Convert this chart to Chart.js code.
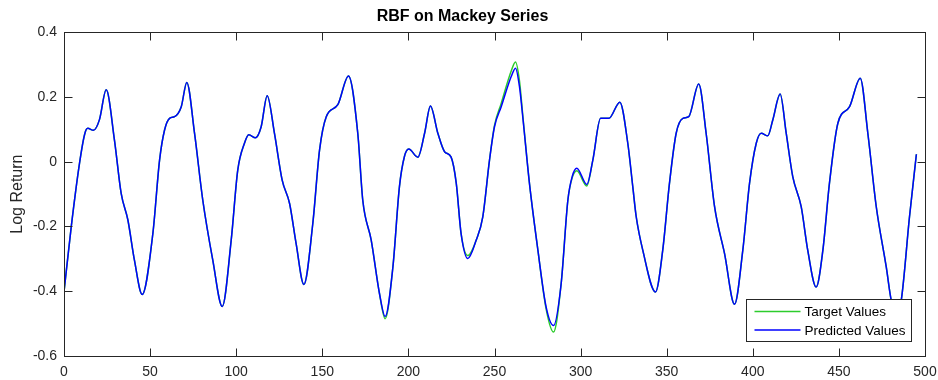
<!DOCTYPE html>
<html>
<head>
<meta charset="utf-8">
<script src="https://cdn.jsdelivr.net/npm/chart.js@4"></script>
<style>
  html, body { margin: 0; padding: 0; background: #fff; }
  #chart { display: block; }
</style>
</head>
<body>
<canvas id="chart" width="938" height="380"></canvas>
<script>
// sample positions (time index)
const xValues = [0, 4.2, 9, 12, 13.8, 17.1, 20.6, 24.5, 29.3, 33.2, 37.1, 40.9, 45.4,
  51.6, 55.5, 58.4, 61.3, 64.2, 68.1, 71.3, 75.8, 80.6, 86.4, 91.9,
  97.1, 100.9, 104.8, 107.3, 111.2, 114.5, 118, 122.2, 126.7, 131, 134.8, 139.3,
  144.5, 148.4, 152.3, 159, 165.2, 170.6, 173.5, 178.4, 183.2, 186.5,
  191, 194.8, 197.7, 200.2, 205.5, 209.4, 212.8, 217.1, 221, 224.8, 227.8, 230.6, 234.5,
  239.4, 243.2, 247.1, 250, 253.9, 259.7, 262.2, 264.5, 266.4, 270.3, 275.2, 280, 284.3,
  288.7, 292.6, 295.1, 297.8, 303.6, 307.1, 311.6, 316.4, 322.8, 327.4, 330.3, 332.3, 336.1, 343.5,
  347.7, 351.6, 355.5, 359.4, 362.8, 368.6, 372.9, 377.8, 383.6, 389.4,
  394.2, 398.1, 402, 404.9, 408.7, 411.6, 415.9, 419.4, 423.2, 428.1, 431.9, 436.8,
  440.7, 444.5, 449.4, 456.2, 462.4, 466.8, 471.7, 477.5, 480.4, 483.3, 486.2, 491, 495];

const targetValues = [-0.402, -0.201, -0.005, 0.085, 0.103, 0.097, 0.13, 0.222, 0.067, -0.098, -0.18, -0.304, -0.41,
  -0.222, 0.005, 0.098, 0.134, 0.139, 0.17, 0.245, 0.088, -0.119, -0.304, -0.447,
  -0.242, -0.026, 0.057, 0.083, 0.074, 0.108, 0.204, 0.088, -0.057, -0.129, -0.253, -0.379,
  -0.19, 0.036, 0.139, 0.176, 0.265, 0.088, -0.119, -0.242, -0.407, -0.485,
  -0.325, -0.077, 0.016, 0.039, 0.014, 0.088, 0.172, 0.088, 0.031, 0.014, -0.067, -0.222, -0.29,
  -0.242, -0.17, 0.005, 0.112, 0.18, 0.28, 0.308, 0.25, 0.145, -0.067, -0.273, -0.455, -0.526,
  -0.377, -0.119, -0.05, -0.028, -0.075, 0.005, 0.134, 0.134, 0.184, 0.057, -0.077, -0.17, -0.273, -0.402,
  -0.273, -0.067, 0.088, 0.134, 0.139, 0.24, 0.088, -0.139, -0.284, -0.44,
  -0.273, -0.067, 0.057, 0.088, 0.08, 0.129, 0.209, 0.088, -0.046, -0.139, -0.273, -0.387,
  -0.273, -0.067, 0.119, 0.17, 0.258, 0.088, -0.139, -0.325, -0.428, -0.47, -0.428, -0.17, 0.023];

const predictedValues = [-0.402, -0.201, -0.005, 0.085, 0.103, 0.097, 0.13, 0.222, 0.067, -0.098, -0.18, -0.304, -0.41,
  -0.222, 0.005, 0.098, 0.134, 0.139, 0.17, 0.245, 0.088, -0.119, -0.304, -0.447,
  -0.242, -0.026, 0.057, 0.083, 0.074, 0.108, 0.204, 0.088, -0.057, -0.129, -0.253, -0.379,
  -0.19, 0.036, 0.139, 0.176, 0.265, 0.088, -0.119, -0.242, -0.407, -0.478,
  -0.325, -0.077, 0.016, 0.039, 0.014, 0.088, 0.172, 0.088, 0.031, 0.014, -0.067, -0.222, -0.299,
  -0.242, -0.17, 0.005, 0.108, 0.17, 0.263, 0.289, 0.232, 0.139, -0.067, -0.273, -0.449, -0.506,
  -0.377, -0.119, -0.046, -0.02, -0.07, 0.005, 0.134, 0.134, 0.184, 0.057, -0.077, -0.17, -0.273, -0.402,
  -0.273, -0.067, 0.088, 0.134, 0.139, 0.24, 0.088, -0.139, -0.284, -0.44,
  -0.273, -0.067, 0.057, 0.088, 0.08, 0.129, 0.209, 0.088, -0.046, -0.139, -0.273, -0.387,
  -0.273, -0.067, 0.119, 0.17, 0.258, 0.088, -0.139, -0.325, -0.428, -0.47, -0.428, -0.17, 0.023];

const xTicks = [0, 50, 100, 150, 200, 250, 300, 350, 400, 450, 500];
const yTicks = [-0.6, -0.4, -0.2, 0, 0.2, 0.4];

const axisColor = '#262626';
const fontFamily = '"Liberation Sans", Arial, Helvetica, sans-serif';

function toPoints(xs, ys) {
    return xs.map((x, i) => ({ x: x, y: ys[i] }));
}

// MATLAB style box with inward ticks on all four sides + boxed legend on top
const matlabAxes = {
    id: 'matlabAxes',
    afterDraw(chart) {
        const ctx = chart.ctx;
        const a = chart.chartArea;
        const xs = chart.scales.x, ys = chart.scales.y;
        const L = Math.round(a.left) + 0.5, R = Math.round(a.right) + 0.5;
        const T = Math.round(a.top) + 0.5, B = Math.round(a.bottom) + 0.5;
        ctx.save();
        ctx.strokeStyle = axisColor;
        ctx.lineWidth = 1;
        ctx.strokeRect(L, T, R - L, B - T);
        ctx.beginPath();
        xTicks.forEach(v => {
            const px = Math.round(xs.getPixelForValue(v)) + 0.5;
            ctx.moveTo(px, B); ctx.lineTo(px, B - 8);
            ctx.moveTo(px, T); ctx.lineTo(px, T + 8);
        });
        yTicks.forEach(v => {
            const py = Math.round(ys.getPixelForValue(v)) + 0.5;
            ctx.moveTo(L, py); ctx.lineTo(L + 8, py);
            ctx.moveTo(R, py); ctx.lineTo(R - 8, py);
        });
        ctx.stroke();

        // legend box
        const bx = 746.5, by = 299.5, bw = 165, bh = 42;
        ctx.fillStyle = '#fff';
        ctx.fillRect(bx, by, bw, bh);
        ctx.strokeRect(bx, by, bw, bh);
        ctx.font = '13.5px ' + fontFamily;
        ctx.textBaseline = 'middle';
        ctx.textAlign = 'left';
        chart.data.datasets.forEach((ds, i) => {
            const ly = by + 12 + i * 18.5;
            ctx.strokeStyle = ds.borderColor;
            ctx.lineWidth = 1.5;
            ctx.beginPath();
            ctx.moveTo(bx + 8, ly); ctx.lineTo(bx + 54, ly);
            ctx.stroke();
            ctx.fillStyle = '#000';
            ctx.fillText(ds.label, bx + 58, ly + 1);
        });
        ctx.restore();
    }
};

new Chart(document.getElementById('chart').getContext('2d'), {
    type: 'line',
    data: {
        datasets: [
            {
                label: 'Target Values',
                data: toPoints(xValues, targetValues),
                borderColor: '#2ccc2c',
                borderWidth: 1.5,
                pointRadius: 0,
                cubicInterpolationMode: 'monotone',
                order: 1
            },
            {
                label: 'Predicted Values',
                data: toPoints(xValues, predictedValues),
                borderColor: '#0000ff',
                borderWidth: 1.5,
                pointRadius: 0,
                cubicInterpolationMode: 'monotone',
                order: 0
            }
        ]
    },
    options: {
        responsive: false,
        animation: false,
        layout: { padding: { right: 13, left: 0, bottom: 0, top: 0 } },
        plugins: {
            legend: { display: false },
            tooltip: { enabled: false },
            title: {
                display: true,
                text: 'RBF on Mackey Series',
                color: '#000',
                font: { family: fontFamily, size: 16, weight: 'bold' },
                padding: { top: 7, bottom: 6 }
            }
        },
        scales: {
            x: {
                type: 'linear',
                min: 0,
                max: 500,
                afterFit: s => { s.height = 24; s.paddingLeft = 0; s.paddingRight = 0; },
                afterBuildTicks: s => { s.ticks = xTicks.map(v => ({ value: v })); },
                grid: { display: false, drawTicks: false },
                border: { display: false },
                ticks: {
                    padding: 8,
                    color: axisColor,
                    maxRotation: 0,
                    font: { family: fontFamily, size: 14 }
                }
            },
            y: {
                min: -0.6,
                max: 0.4,
                afterFit: s => { s.width = 64; s.paddingTop = 0; s.paddingBottom = 0; },
                afterBuildTicks: s => { s.ticks = yTicks.map(v => ({ value: v })); },
                grid: { display: false, drawTicks: false },
                border: { display: false },
                ticks: {
                    padding: 7,
                    color: axisColor,
                    font: { family: fontFamily, size: 14 },
                    callback: v => (Math.abs(v) < 1e-9 ? '0' : String(+v.toFixed(1)))
                },
                title: {
                    display: true,
                    text: 'Log Return',
                    color: axisColor,
                    font: { family: fontFamily, size: 16 },
                    padding: { top: 8, bottom: 0 }
                }
            }
        }
    },
    plugins: [matlabAxes]
});
</script>
</body>
</html>
